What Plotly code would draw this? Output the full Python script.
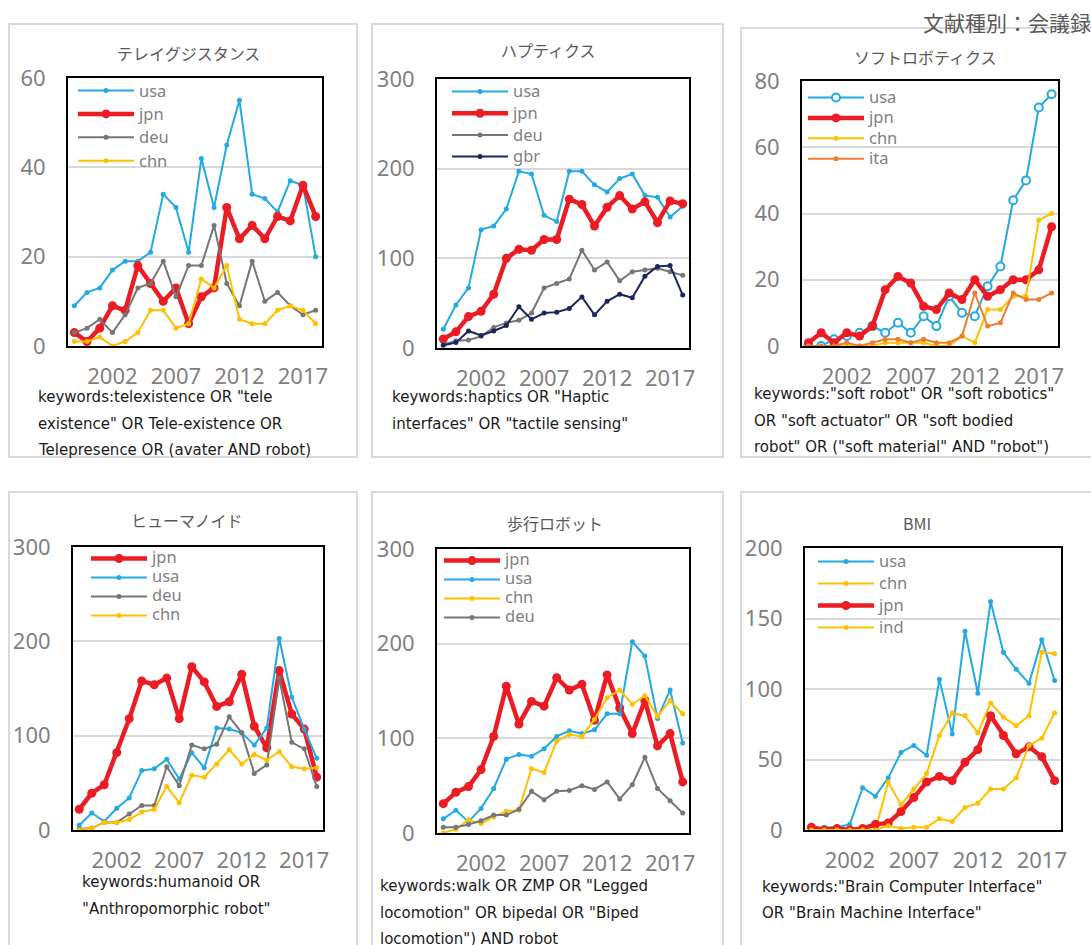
import plotly.graph_objects as go

W, H = 1091, 945
years = list(range(1999, 2019))
tick_years = [2002, 2007, 2012, 2017]

# ---- data: テレイグジスタンス ----
tele_usa = [9, 12, 13, 17, 19, 19, 21, 34, 31, 21, 42, 31, 45, 55, 34, 33, 30, 37, 36, 20]
tele_jpn = [3, 1, 4, 9, 8, 18, 14, 10, 13, 5, 11, 13, 31, 24, 27, 24, 29, 28, 36, 29]
tele_deu = [3, 4, 6, 3, 7, 13, 14, 19, 11, 18, 18, 27, 14, 9, 19, 10, 12, 9, 7, 8]
tele_chn = [1, 1, 2, 0, 1, 3, 8, 8, 4, 5, 15, 13, 18, 6, 5, 5, 8, 9, 8, 5]

# ---- data: ハプティクス ----
hap_usa = [21, 48, 67, 132, 136, 155, 197, 194, 148, 141, 197, 197, 182, 174, 189, 194, 170, 168, 146, 158]
hap_jpn = [10, 18, 35, 41, 60, 100, 110, 109, 121, 121, 166, 160, 136, 157, 170, 155, 163, 140, 164, 161]
hap_deu = [4, 8, 9, 13, 23, 28, 31, 39, 67, 72, 77, 109, 87, 96, 75, 85, 87, 89, 85, 81]
hap_gbr = [3, 6, 19, 14, 19, 25, 46, 32, 39, 40, 44, 57, 37, 52, 60, 56, 80, 91, 92, 59]

# ---- data: ソフトロボティクス ----
soft_usa = [0, 0, 2, 3, 4, 6, 4, 7, 4, 9, 6, 15, 10, 9, 18, 24, 44, 50, 72, 76]
soft_jpn = [1, 4, 1, 4, 3, 6, 17, 21, 19, 12, 11, 16, 14, 20, 15, 17, 20, 20, 23, 36]
soft_chn = [0, 0, 0, 0, 0, 0, 1, 1, 1, 1, 0, 0, 3, 1, 11, 11, 15, 15, 38, 40]
soft_ita = [0, 0, 0, 1, 0, 1, 2, 2, 1, 2, 1, 1, 3, 16, 6, 7, 16, 14, 14, 16]

# ---- data: ヒューマノイド ----
hum_jpn = [22, 39, 48, 82, 118, 158, 154, 161, 118, 173, 157, 131, 136, 165, 110, 87, 169, 123, 107, 56]
hum_usa = [5, 18, 9, 23, 34, 63, 65, 75, 54, 82, 66, 108, 107, 103, 90, 108, 203, 141, 107, 76]
hum_deu = [1, 2, 8, 8, 17, 26, 26, 67, 47, 90, 86, 91, 120, 103, 60, 69, 161, 93, 86, 46]
hum_chn = [0, 2, 8, 8, 11, 19, 22, 46, 29, 58, 56, 70, 85, 70, 80, 74, 83, 67, 65, 66]

# ---- data: 歩行ロボット ----
walk_jpn = [31, 43, 49, 67, 102, 155, 115, 139, 134, 164, 151, 157, 119, 167, 132, 105, 140, 92, 105, 54]
walk_usa = [15, 24, 12, 26, 47, 78, 83, 81, 89, 102, 108, 105, 109, 126, 126, 202, 187, 121, 151, 95]
walk_chn = [0, 4, 14, 10, 17, 23, 24, 68, 64, 97, 104, 102, 120, 143, 151, 136, 145, 123, 140, 126]
walk_deu = [6, 6, 9, 13, 19, 19, 25, 44, 35, 44, 45, 50, 46, 54, 36, 51, 80, 47, 34, 21]

# ---- data: BMI ----
bmi_usa = [1, 2, 2, 4, 30, 24, 37, 55, 60, 53, 107, 68, 141, 97, 162, 126, 114, 104, 135, 106]
bmi_chn = [0, 0, 0, 0, 0, 0, 34, 18, 29, 40, 67, 83, 81, 69, 90, 80, 74, 81, 126, 125]
bmi_jpn = [2, 0, 1, 0, 1, 4, 5, 13, 23, 34, 38, 35, 48, 57, 81, 67, 54, 59, 52, 35]
bmi_ind = [0, 0, 0, 0, 0, 0, 3, 1, 2, 2, 8, 6, 16, 19, 29, 29, 37, 60, 65, 83]

# ---- styles ----
COL = {"usa": "#22aae2", "jpn": "#ec1c24", "deu": "#767676", "chn": "#ffc000",
       "gbr": "#1b2560", "ita": "#ed7d31", "ind": "#ffc000"}
LAT = "Noto Sans"
KWF = "DejaVu Sans"
JP = "Noto Sans CJK JP"
GRAY = "#7f7f7f"
TGRAY = "#595959"


def fx(x):
    return x / W


def fy(y):
    return 1 - y / H


panels = [
    dict(title="テレイグジスタンス", title_xy=(188, 53),
         series=[("usa", tele_usa), ("jpn", tele_jpn), ("deu", tele_deu), ("chn", tele_chn)],
         yr=60, dtick=20, plot=(68, 78, 322, 346), box=(9, 24, 357, 457),
         leg=(78, 90), gap=23.4,
         kw=["keywords:telexistence OR \"tele", "existence\" OR Tele-existence OR",
             "Telepresence OR (avater AND robot)"], kw_xy=(36, 397), kw_gap=26.5),
    dict(title="ハプティクス", title_xy=(548, 50),
         series=[("usa", hap_usa), ("jpn", hap_jpn), ("deu", hap_deu), ("gbr", hap_gbr)],
         yr=300, dtick=100, plot=(437, 79, 689, 348), box=(372, 24, 723, 457),
         leg=(452, 91), gap=21.7,
         kw=["keywords:haptics OR \"Haptic", "interfaces\" OR \"tactile sensing\""],
         kw_xy=(390, 397), kw_gap=26.5),
    dict(title="ソフトロボティクス", title_xy=(925, 57),
         series=[("usa", soft_usa), ("jpn", soft_jpn), ("chn", soft_chn), ("ita", soft_ita)],
         yr=80, dtick=20, plot=(802, 81, 1058, 346), box=(741, 28, 1100, 457),
         leg=(808, 97), gap=20.4,
         kw=["keywords:\"soft robot\" OR \"soft robotics\"", "OR \"soft actuator\" OR \"soft bodied",
             "robot\" OR (\"soft material\" AND \"robot\")"], kw_xy=(752, 394), kw_gap=26.5),
    dict(title="ヒューマノイド", title_xy=(187, 520),
         series=[("jpn", hum_jpn), ("usa", hum_usa), ("deu", hum_deu), ("chn", hum_chn)],
         yr=300, dtick=100, plot=(73, 547, 323, 830), box=(9, 492, 357, 960),
         leg=(91, 558), gap=19.0,
         kw=["keywords:humanoid OR", "\"Anthropomorphic robot\""], kw_xy=(80, 882), kw_gap=27),
    dict(title="歩行ロボット", title_xy=(555, 523),
         series=[("jpn", walk_jpn), ("usa", walk_usa), ("chn", walk_chn), ("deu", walk_deu)],
         yr=300, dtick=100, plot=(437, 549, 689, 833), box=(372, 492, 723, 960),
         leg=(444, 560), gap=18.8,
         kw=["keywords:walk OR ZMP OR \"Legged", "locomotion\" OR bipedal OR \"Biped",
             "locomotion\") AND robot"], kw_xy=(378, 886), kw_gap=26.5),
    dict(title="BMI", title_xy=(917, 523),
         series=[("usa", bmi_usa), ("chn", bmi_chn), ("jpn", bmi_jpn), ("ind", bmi_ind)],
         yr=200, dtick=50, plot=(805, 548, 1061, 830), box=(741, 492, 1100, 960),
         leg=(818, 561), gap=22.0,
         kw=["keywords:\"Brain Computer Interface\"", "OR \"Brain Machine Interface\""],
         kw_xy=(760, 887), kw_gap=26),
]

fig = go.Figure()
shapes = []
annotations = []
layout = {}
ITEMW = 56

for i, p in enumerate(panels):
    n = i + 1
    sfx = "" if n == 1 else str(n)
    legname = "legend" if n == 1 else f"legend{n}"
    for name, vals in p["series"]:
        c = COL[name]
        if name == "jpn":
            line = dict(color=c, width=4.5)
            marker = dict(color=c, size=9)
        elif name == "usa" and p["title"] == "ソフトロボティクス":
            line = dict(color=c, width=2)
            marker = dict(color="white", size=8, symbol="circle", line=dict(color=c, width=2))
        else:
            line = dict(color=c, width=2)
            marker = dict(color=c, size=5)
        fig.add_trace(go.Scatter(x=years, y=vals,
                                 name=f'<span style="font-size:16.5px">{name}</span>',
                                 mode="lines+markers", line=line, marker=marker,
                                 xaxis="x" + sfx, yaxis="y" + sfx, legend=legname))
    x0, y0, x1, y1 = p["plot"]
    layout["xaxis" + sfx] = dict(
        domain=[fx(x0), fx(x1)], anchor="y" + sfx, range=[1998.5, 2018.5],
        tickvals=tick_years, ticks="outside", ticklen=10, tickcolor="rgba(0,0,0,0)",
        showgrid=False, zeroline=False, showline=True, mirror=True, automargin=False,
        linecolor="black", linewidth=2,
        tickfont=dict(family=LAT, size=22, color=GRAY))
    layout["yaxis" + sfx] = dict(
        domain=[fy(y1), fy(y0)], anchor="x" + sfx, range=[0, p["yr"]],
        dtick=p["dtick"], ticks="outside", ticklen=16, tickcolor="rgba(0,0,0,0)",
        showgrid=True, gridcolor="#d9d9d9", gridwidth=2, zeroline=False, automargin=False,
        showline=True, mirror=True, linecolor="black", linewidth=2,
        tickfont=dict(family=LAT, size=22, color=GRAY))
    lx, lc = p["leg"]
    fs = (p["gap"] - 3) / 1.3
    h = p["gap"]
    layout[legname] = dict(
        x=fx(lx - 5), y=fy(lc - 4.5 - h / 2), xanchor="left", yanchor="top",
        xref="paper", yref="paper",
        bgcolor="rgba(0,0,0,0)", borderwidth=0, itemwidth=ITEMW, tracegroupgap=0,
        font=dict(family=LAT, size=fs, color=GRAY))
    bx0, by0, bx1, by1 = p["box"]
    shapes.append(dict(type="rect", xref="paper", yref="paper",
                       x0=fx(bx0), x1=fx(bx1), y0=fy(by1), y1=fy(by0),
                       line=dict(color="#d9d9d9", width=2), fillcolor="rgba(0,0,0,0)",
                       layer="below"))
    tx, ty = p["title_xy"]
    annotations.append(dict(text=p["title"], x=fx(tx), y=fy(ty), xref="paper", yref="paper",
                            xanchor="center", yanchor="middle", showarrow=False,
                            font=dict(family=JP, size=16, color=TGRAY)))
    kx, ky = p["kw_xy"]
    for j, t in enumerate(p["kw"]):
        annotations.append(dict(text=t, x=fx(kx), y=fy(ky + j * p["kw_gap"]),
                                xref="paper", yref="paper", xanchor="left", yanchor="middle",
                                showarrow=False,
                                font=dict(family=KWF, size=15, color="#1a1a1a")))

annotations.append(dict(text="文献種別：会議録", x=fx(921), y=fy(22), xref="paper", yref="paper",
                        xanchor="left", yanchor="middle", showarrow=False,
                        font=dict(family=JP, size=21, color=TGRAY)))

fig.update_layout(
    width=W, height=H, margin=dict(l=0, r=0, t=0, b=0, autoexpand=False),
    paper_bgcolor="white", plot_bgcolor="white",
    showlegend=True, shapes=shapes, annotations=annotations, **layout)

fig.write_html("out.html", config={"displayModeBar": False},
               post_script="document.body.style.margin='0';document.body.style.overflow='hidden';")
